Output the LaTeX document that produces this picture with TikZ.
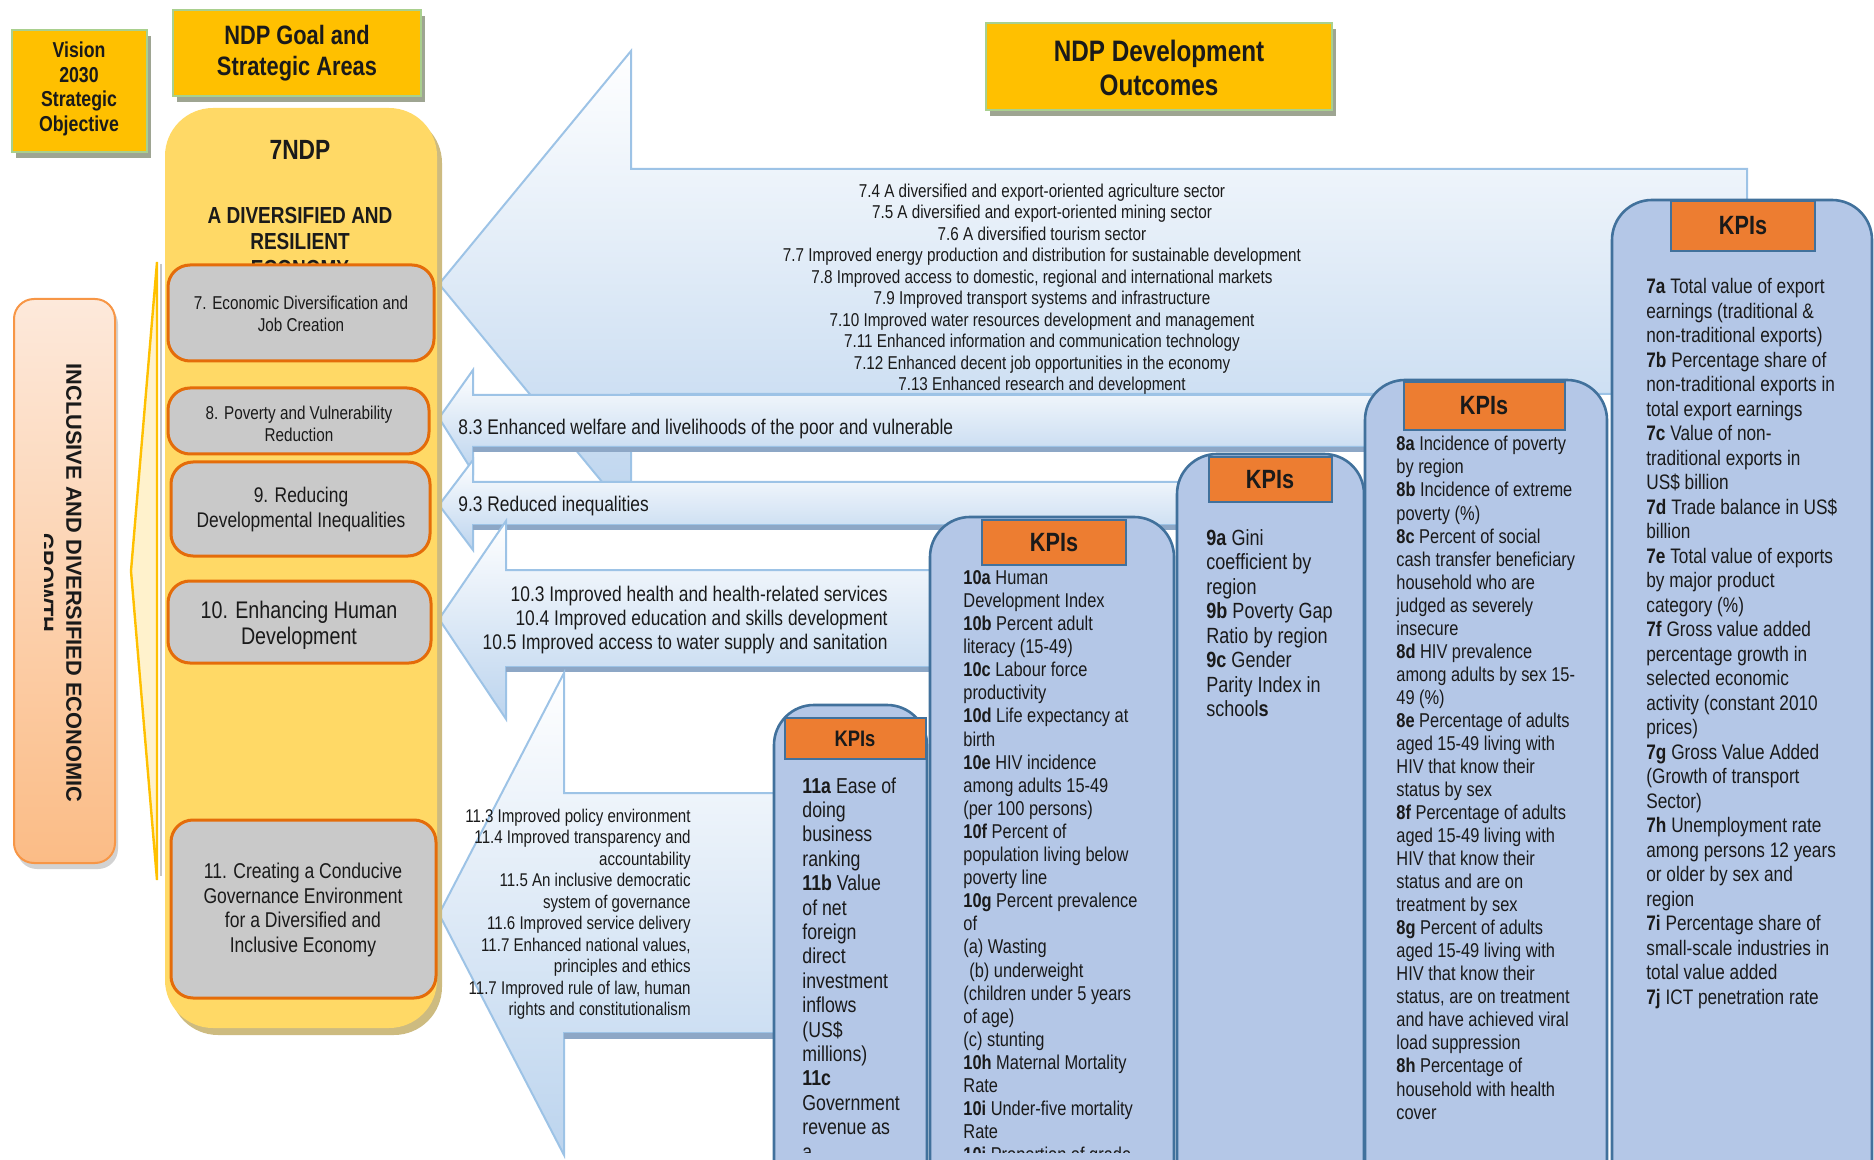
\documentclass[tikz,border=0pt]{standalone}
\usepackage{fontspec}
\setmainfont{Liberation Sans}[FakeStretch=0.82]
\newfontfamily\widesans{Liberation Sans}

\definecolor{headgold}{HTML}{FFC000}
\definecolor{headrim}{HTML}{A9D08E}
\definecolor{headshade}{HTML}{9EA592}
\definecolor{ndpyellow}{HTML}{FFD966}
\definecolor{ndpshade}{HTML}{CDBB80}
\definecolor{areagrey}{HTML}{C9C9C9}
\definecolor{arearim}{HTML}{E46C0A}
\definecolor{kpiblue}{HTML}{B4C7E7}
\definecolor{kpirim}{HTML}{41719C}
\definecolor{kpiorange}{HTML}{ED7D31}
\definecolor{arrowrim}{HTML}{9DC3E6}
\definecolor{arrowtop}{HTML}{FFFFFF}
\definecolor{arrowbot}{HTML}{BCD4EE}
\definecolor{arrowshade}{HTML}{8DA7C6}
\definecolor{peachtop}{HTML}{FDE9DB}
\definecolor{peachbot}{HTML}{FBBC86}
\definecolor{peachrim}{HTML}{F79646}
\definecolor{bracketfill}{HTML}{FFF2CC}
\definecolor{ink}{HTML}{1A1A1A}

\newcommand{\fs}[2]{\fontsize{#1}{#2}\selectfont}
\newcommand{\kp}[1]{\textbf{#1}}

\begin{document}
\begin{tikzpicture}[x=0.5pt,y=-0.5pt,
   txt/.style={text=ink,inner sep=0pt},
   goldbox/.style={fill=headgold,draw=headrim,line width=1pt},
   areabox/.style={fill=areagrey,draw=arearim,line width=1.5pt,rounded corners=11pt},
   outarrow/.style={draw=arrowrim,line width=1pt,top color=arrowtop,bottom color=arrowbot},
   kpipanel/.style={fill=kpiblue,draw=kpirim,line width=1.3pt,rounded corners=20pt},
   kpihead/.style={fill=kpiorange,draw=kpirim,line width=1.2pt},
   kpitag/.style={txt,font=\bfseries\fs{13.2}{15}}]
   \useasboundingbox (0,0) rectangle (1874,1160);
   \clip (0,0) rectangle (1874,1160);

   % outcome arrows
   \path[outarrow] (439,284) -- (631,51) -- (631,169) -- (1747,169) -- (1747,394) -- (631,394) -- (631,517) -- cycle;
   \path[outarrow] (439,418) -- (473,370) -- (473,395) -- (1400,395) -- (1400,447) -- (473,447) -- (473,472) -- cycle;
   \fill[arrowshade] (473,447) rectangle (1400,452);
   \path[outarrow] (439,505) -- (473,460) -- (473,482) -- (1200,482) -- (1200,525) -- (473,525) -- (473,550) -- cycle;
   \fill[arrowshade] (473,525) rectangle (1200,530);
   \path[outarrow] (439,619) -- (506,521) -- (506,570) -- (960,570) -- (960,667) -- (506,667) -- (506,719) -- cycle;
   \fill[arrowshade] (506,667) rectangle (960,672);
   \path[outarrow] (439,914) -- (564,673) -- (564,793) -- (800,793) -- (800,1033) -- (564,1033) -- (564,1155) -- cycle;
   \fill[arrowshade] (564,1033) rectangle (800,1039);

   \node[txt,font=\fs{9.3}{10.75},align=center] (out7) at (1042,289)
      {7.4 A diversified and export-oriented agriculture sector\\
       7.5 A diversified and export-oriented mining sector\\
       7.6 A diversified tourism sector\\
       7.7 Improved energy production and distribution for sustainable development\\
       7.8 Improved access to domestic, regional and international markets\\
       7.9 Improved transport systems and infrastructure\\
       7.10 Improved water resources development and management\\
       7.11 Enhanced information and communication technology\\
       7.12 Enhanced decent job opportunities in the economy\\
       7.13 Enhanced research and development};
   \node[txt,font=\fs{10.6}{12},anchor=west] (out8) at (458,429)
      {8.3 Enhanced welfare and livelihoods of the poor and vulnerable};
   \node[txt,font=\fs{10.6}{12},anchor=west] (out9) at (458,506) {9.3 Reduced inequalities};
   \node[txt,font=\fs{10.6}{12.2},align=right,anchor=east] (out10) at (888,620)
      {10.3 Improved health and health-related services\\
       10.4 Improved education and skills development\\
       10.5 Improved access to water supply and sanitation};
   \node[txt,font=\fs{9.2}{10.75},align=right,anchor=east] (out11) at (691,914)
      {11.3 Improved policy environment\\
       11.4 Improved transparency and\\
       accountability\\
       11.5 An inclusive democratic\\
       system of governance\\
       11.6 Improved service delivery\\
       11.7 Enhanced national values,\\
       principles and ethics\\
       11.7 Improved rule of law, human\\
       rights and constitutionalism};

   % KPI panels
   \path[kpipanel] (774,1300) rectangle (927,705);
   \path[kpipanel] (930,1300) rectangle (1174,517);
   \path[kpipanel] (1177,1300) rectangle (1364,454);
   \path[kpipanel] (1365,1300) rectangle (1607,380);
   \path[kpipanel] (1612,1300) rectangle (1872,200);
   \filldraw[kpihead] (785,718) rectangle (926,759);
   \filldraw[kpihead] (982,520) rectangle (1126,565);
   \filldraw[kpihead] (1209,457) rectangle (1332,502);
   \filldraw[kpihead] (1404,382) rectangle (1565,430);
   \filldraw[kpihead] (1671,201) rectangle (1815,251);
   \node[kpitag,font=\bfseries\fs{11.2}{13}] (kpi11) at (855,739) {KPIs};
   \node[kpitag] (kpi10) at (1054,543) {KPIs};
   \node[kpitag] (kpi9) at (1270,480) {KPIs};
   \node[kpitag] (kpi8) at (1484,406) {KPIs};
   \node[kpitag] (kpi7) at (1743,226) {KPIs};

   \begin{scope}
   \clip (760,0) rectangle (1180,1152);
   \node[txt,font=\fs{10.8}{12.2},align=left,anchor=north west] (list11) at (802,777)
      {\kp{11a} Ease of\\ doing\\ business\\ ranking\\ \kp{11b} Value\\ of net\\ foreign\\
       direct\\ investment\\ inflows\\ (US\$\\ millions)\\ \kp{11c}\\ Government\\ revenue as\\ a};
   \node[txt,font=\fs{10}{11.55},align=left,anchor=north west] (list10) at (963,570)
      {\kp{10a} Human\\ Development Index\\ \kp{10b} Percent adult\\ literacy (15-49)\\
       \kp{10c} Labour force\\ productivity\\ \kp{10d} Life expectancy at\\ birth\\
       \kp{10e} HIV incidence\\ among adults 15-49\\ (per 100 persons)\\
       \kp{10f} Percent of\\ population living below\\ poverty line\\
       \kp{10g} Percent prevalence\\ of\\ (a) Wasting\\ \hspace{0.3em}(b) underweight\\
       (children under 5 years\\ of age)\\ (c) stunting\\ \kp{10h} Maternal Mortality\\ Rate\\
       \kp{10i} Under-five mortality\\ Rate\\ \kp{10j} Proportion of grade};
   \end{scope}
   \node[txt,font=\fs{11}{12.25},align=left,anchor=north west] (list9) at (1206,529)
      {\kp{9a} Gini\\ coefficient by\\ region\\ \kp{9b} Poverty Gap\\ Ratio by region\\
       \kp{9c} Gender\\ Parity Index in\\ school\textbf{s}};
   \node[txt,font=\fs{10}{11.52},align=left,anchor=north west] (list8) at (1396,436)
      {\kp{8a} Incidence of poverty\\ by region\\ \kp{8b} Incidence of extreme\\ poverty (\%)\\
       \kp{8c} Percent of social\\ cash transfer beneficiary\\ household who are\\
       judged as severely\\ insecure\\ \kp{8d} HIV prevalence\\ among adults by sex 15-\\ 49 (\%)\\
       \kp{8e} Percentage of adults\\ aged 15-49 living with\\ HIV that know their\\ status by sex\\
       \kp{8f} Percentage of adults\\ aged 15-49 living with\\ HIV that know their\\
       status and are on\\ treatment by sex\\ \kp{8g} Percent of adults\\ aged 15-49 living with\\
       HIV that know their\\ status, are on treatment\\ and have achieved viral\\
       load suppression\\ \kp{8h} Percentage of\\ household with health\\ cover};
   \node[txt,font=\fs{10.5}{12.25},align=left,anchor=north west] (list7) at (1646,278)
      {\kp{7a} Total value of export\\ earnings (traditional \&\\ non-traditional exports)\\
       \kp{7b} Percentage share of\\ non-traditional exports in\\ total export earnings\\
       \kp{7c} Value of non-\\ traditional exports in\\ US\$ billion\\
       \kp{7d} Trade balance in US\$\\ billion\\ \kp{7e} Total value of exports\\
       by major product\\ category (\%)\\ \kp{7f} Gross value added\\ percentage growth in\\
       selected economic\\ activity (constant 2010\\ prices)\\ \kp{7g} Gross Value Added\\
       (Growth of transport\\ Sector)\\ \kp{7h} Unemployment rate\\ among persons 12 years\\
       or older by sex and\\ region\\ \kp{7i} Percentage share of\\ small-scale industries in\\
       total value added\\ \kp{7j} ICT penetration rate};

   % 7NDP column
   \path[fill=ndpshade,rounded corners=24pt] (170,115) rectangle (442,1035);
   \path[fill=ndpyellow,rounded corners=24pt] (165,108) rectangle (437,1028);
   \node[txt,font=\bfseries\fs{13.9}{16}] (ndp) at (300,150) {7NDP};
   \node[txt,font=\bfseries\fs{11.6}{13.4},align=center] (ndpgoal) at (300,242)
      {A DIVERSIFIED AND\\ RESILIENT\\ ECONOMY};

   \path[areabox] (168,265) rectangle (434,361);
   \path[areabox] (168,388) rectangle (429,454);
   \path[areabox] (171,462) rectangle (430,556);
   \path[areabox] (168,581) rectangle (431,663);
   \path[areabox] (171,820) rectangle (436,998);
   \node[txt,font=\fs{9.3}{11},align=center] (area7) at (301,314)
      {7. Economic Diversification and\\ Job Creation};
   \node[txt,font=\fs{9.3}{11},align=center] (area8) at (299,424)
      {8. Poverty and Vulnerability\\ Reduction};
   \node[txt,font=\fs{10.6}{12.5},align=center] (area9) at (301,510)
      {9. Reducing\\ Developmental Inequalities};
   \node[txt,font=\fs{12}{13.2},align=center] (area10) at (299,625)
      {10. Enhancing Human\\ Development};
   \node[txt,font=\fs{10.7}{12.3},align=center] (area11) at (303,910)
      {11. Creating a Conducive\\ Governance Environment\\ for a Diversified and\\ Inclusive Economy};

   % vision bracket and objective
   \draw[gray!45,line width=0.8pt] (161,264) -- (161,876);
   \filldraw[fill=bracketfill,draw=headgold,line width=1.2pt] (157,262) -- (131,571) -- (157,880) -- cycle;
   \fill[gray!35,rounded corners=10pt] (17,304) rectangle (118,869);
   \path[draw=peachrim,line width=1pt,top color=peachtop,bottom color=peachbot,rounded corners=10pt]
      (14,299) rectangle (115,863);
   \begin{scope}
   \clip (44,300) rectangle (115,862);
   \node[txt,font=\widesans\bfseries\fs{10.9}{14},align=center,rotate=-90] (growth) at (60,583)
      {INCLUSIVE AND DIVERSIFIED ECONOMIC\\ GROWTH};
   \end{scope}

   % headings
   \fill[headshade] (16,36) rectangle (151,158);
   \filldraw[goldbox] (12,30) rectangle (147,152);
   \fill[headshade] (177,16) rectangle (425,102);
   \filldraw[goldbox] (173,10) rectangle (421,96);
   \fill[headshade] (990,29) rectangle (1336,116);
   \filldraw[goldbox] (986,23) rectangle (1332,110);
   \node[txt,font=\bfseries\fs{10.8}{12.2},align=center] (vision) at (79,89)
      {Vision\\ 2030\\ Strategic\\ Objective};
   \node[txt,font=\bfseries\fs{13.3}{15.5},align=center] (goalhead) at (297,53)
      {NDP Goal and\\ Strategic Areas};
   \node[txt,font=\bfseries\fs{14.8}{17},align=center] (outcomehead) at (1159,68)
      {NDP Development\\ Outcomes};
\end{tikzpicture}
\end{document}
